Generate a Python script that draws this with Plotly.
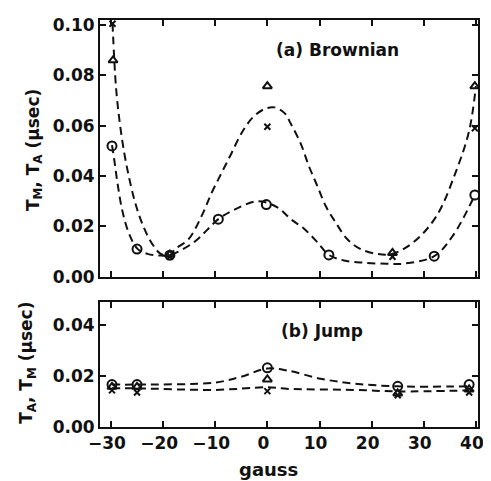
import plotly.graph_objects as go

# ---------------- data: (a) Brownian ----------------
a_circ_x = [-29.8, -25.0, -18.7, -9.4, -0.2, 11.8, 32.0, 39.8]
a_circ_y = [0.052, 0.011, 0.0086, 0.0229, 0.0287, 0.0087, 0.0082, 0.0325]
a_tri_x = [-29.6, -18.7, 0.0, 24.0, 39.8]
a_tri_y = [0.086, 0.0088, 0.0757, 0.0095, 0.0757]
a_x_x = [-29.7, -18.7, 0.0, 24.0, 39.8]
a_x_y = [0.1005, 0.0080, 0.0596, 0.0080, 0.0590]

a_up_x = [-29.7, -29.05, -28.4, -27.5, -26.5, -25.25, -23.7, -22.1, -20.5, -18.8, -17.6,
          -15.1, -12.6, -10.7, -8.8, -6.9, -5.0, -2.75, -0.5, 1.4, 3.3, 4.5, 6.4, 8.0, 9.6,
          11.2, 13.1, 15.3, 17.8, 21.0, 23.9, 28.0, 32.4, 36.2, 38.7, 40.0]
a_up_y = [0.1007, 0.0758, 0.0627, 0.0498, 0.0392, 0.0287, 0.0196, 0.0131, 0.0092, 0.0085,
          0.0111, 0.0150, 0.0242, 0.0333, 0.0412, 0.0490, 0.0569, 0.0634, 0.0667, 0.0673,
          0.0650, 0.0608, 0.0529, 0.0438, 0.0360, 0.0281, 0.0216, 0.0150, 0.0111, 0.0091,
          0.0091, 0.0137, 0.024, 0.042, 0.058, 0.0757]
a_lo_x = [-29.8, -29.4, -28.7, -27.8, -26.5, -24.9, -23.0, -20.8, -18.8, -14.1, -9.4, -6.2,
          -1.8, 2.0, 4.5, 7.1, 9.6, 11.8, 14.7, 18.5, 22.9, 26.0, 32.0, 35.6, 39.8]
a_lo_y = [0.0523, 0.047, 0.0366, 0.0261, 0.017, 0.0111, 0.0091, 0.0085, 0.0086, 0.0137,
          0.0229, 0.0268, 0.0300, 0.0275, 0.0229, 0.0190, 0.0137, 0.0087, 0.0065, 0.0056,
          0.0052, 0.0052, 0.0082, 0.0164, 0.0325]

# ---------------- data: (b) Jump ----------------
b_circ_x = [-29.8, -25.0, 0.0, 25.0, 38.7]
b_circ_y = [0.0167, 0.0167, 0.0233, 0.0160, 0.0167]
b_tri_x = [-29.8, -25.0, 0.0, 25.0, 38.7]
b_tri_y = [0.0158, 0.0158, 0.0187, 0.0132, 0.0148]
b_x_x = [-29.8, -25.0, 0.0, 25.0, 38.7]
b_x_y = [0.0144, 0.0136, 0.0141, 0.0125, 0.0136]

b_up_x = [-29.8, -25.0, -10.0, -5.0, 0.0, 3.9, 10.2, 16.6, 25.0, 38.7]
b_up_y = [0.0167, 0.0167, 0.0175, 0.0198, 0.0230, 0.0222, 0.0190, 0.0171, 0.0160, 0.0160]
b_lo_x = [-29.8, -25.0, -10.0, 0.0, 4.0, 16.6, 25.0, 38.7]
b_lo_y = [0.0152, 0.0152, 0.0146, 0.0156, 0.0150, 0.0146, 0.0140, 0.0144]

x_ticks = [-30, -20, -10, 0, 10, 20, 30, 40]
a_y_ticks = [0.0, 0.02, 0.04, 0.06, 0.08, 0.10]
b_y_ticks = [0.0, 0.02, 0.04]

FONT = "DejaVu Sans"
BLACK = "#111111"

fig = go.Figure()

def add_panel(xa, ya, up_x, up_y, lo_x, lo_y, cx, cy, tx, ty, xx, xy):
    for lx, ly in ((up_x, up_y), (lo_x, lo_y)):
        fig.add_trace(go.Scatter(x=lx, y=ly, mode="lines", xaxis=xa, yaxis=ya,
                                 line=dict(color=BLACK, width=2, dash="8px,5px", shape="spline",
                                           smoothing=1.0),
                                 showlegend=False, hoverinfo="skip"))
    fig.add_trace(go.Scatter(x=cx, y=cy, mode="markers", xaxis=xa, yaxis=ya,
                             marker=dict(symbol="circle-open", size=9, color=BLACK,
                                         line=dict(width=2, color=BLACK)),
                             showlegend=False))
    fig.add_trace(go.Scatter(x=tx, y=ty, mode="markers", xaxis=xa, yaxis=ya,
                             marker=dict(symbol="triangle-up-open", size=8, color=BLACK,
                                         line=dict(width=2, color=BLACK)),
                             showlegend=False))
    fig.add_trace(go.Scatter(x=xx, y=xy, mode="markers", xaxis=xa, yaxis=ya,
                             marker=dict(symbol="x-thin-open", size=6, color=BLACK,
                                         line=dict(width=2, color=BLACK)),
                             showlegend=False))

add_panel("x", "y", a_up_x, a_up_y, a_lo_x, a_lo_y, a_circ_x, a_circ_y,
          a_tri_x, a_tri_y, a_x_x, a_x_y)
add_panel("x2", "y2", b_up_x, b_up_y, b_lo_x, b_lo_y, b_circ_x, b_circ_y,
          b_tri_x, b_tri_y, b_x_x, b_x_y)

axis_common = dict(showline=True, linewidth=2, linecolor=BLACK, mirror="allticks",
                   ticks="inside", ticklen=6, tickwidth=2, tickcolor=BLACK,
                   showgrid=False, zeroline=False,
                   tickfont=dict(family=FONT, size=17, color=BLACK, weight="bold"))

# page body has an 8px default margin, so the figure is sized to fit the window
fig.update_layout(
    width=483, height=473,
    margin=dict(l=92, r=9, t=7, b=54),
    paper_bgcolor="white", plot_bgcolor="white",
    xaxis=dict(domain=[0, 1], anchor="y", range=[-32.1, 40.4], tickvals=x_ticks,
               showticklabels=False, **axis_common),
    yaxis=dict(domain=[0.369, 1], anchor="x", range=[0, 0.102], tickvals=a_y_ticks,
               tickformat=".2f", **axis_common),
    xaxis2=dict(domain=[0, 1], anchor="y2", range=[-32.1, 40.4], tickvals=x_ticks,
                ticktext=[("\u2212" + str(-v)) if v < 0 else str(v) for v in x_ticks],
                ticklabelshift=-4, **axis_common),
    yaxis2=dict(domain=[0, 0.306], anchor="x2", range=[0, 0.049], tickvals=b_y_ticks,
                tickformat=".2f", **axis_common),
)

def ann(text, x, y, angle=0, size=17):
    fig.add_annotation(text=text, xref="paper", yref="paper", x=x, y=y, textangle=angle,
                       xanchor="center", yanchor="middle", showarrow=False,
                       font=dict(family=FONT, size=size, color=BLACK, weight="bold"))

ann("(a) Brownian", 0.628, 0.927)
ann("(b) Jump", 0.586, 0.235)
ann("T<sub>M</sub>, T<sub>A</sub> (\u03bcsec)", -0.175, 0.68, angle=-90)
ann("T<sub>A</sub>, T<sub>M</sub> (\u03bcsec)", -0.19, 0.158, angle=-90)
ann("gauss", 0.445, -0.104, size=18)

fig.write_html("out.html")
